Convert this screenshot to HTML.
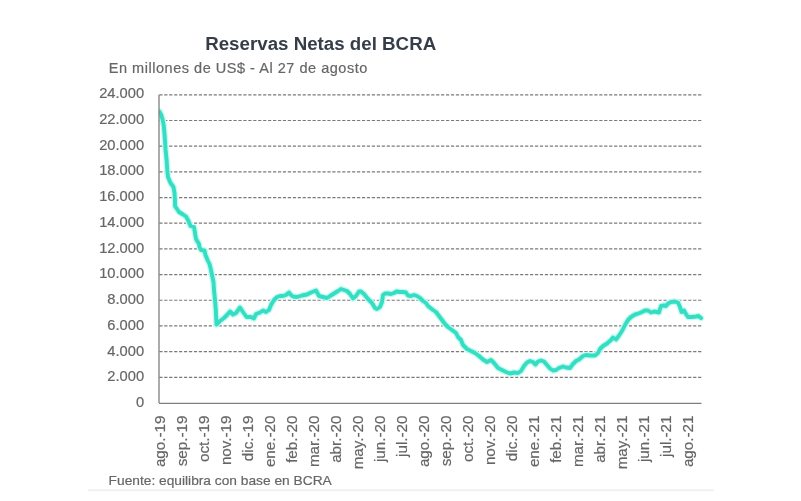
<!DOCTYPE html>
<html><head><meta charset="utf-8"><title>Reservas Netas del BCRA</title>
<style>
html,body{margin:0;padding:0;background:#fff;}
body{width:801px;height:501px;overflow:hidden;position:relative;}
svg{position:absolute;left:0;top:0;display:block;}
text{font-family:"Liberation Sans",Arial,sans-serif;}
.g{fill:#666;stroke:#666;stroke-width:0.2px;}
</style></head><body>
<svg width="801" height="501" viewBox="0 0 801 501">
<defs><filter id="soft" filterUnits="userSpaceOnUse" x="0" y="0" width="801" height="501"><feGaussianBlur stdDeviation="0.35"/></filter></defs>
<rect x="0" y="0" width="801" height="501" fill="#ffffff"/>
<g filter="url(#soft)">
<text x="205.2" y="49.7" font-size="18" font-weight="bold" fill="#363e4a" textLength="231" lengthAdjust="spacingAndGlyphs">Reservas Netas del BCRA</text>
<text x="108.8" y="72.8" font-size="14.5" class="g" textLength="258.5" lengthAdjust="spacing">En millones de US$ - Al 27 de agosto</text>
<line x1="159.31" y1="377.32" x2="701.5" y2="377.32" stroke="#7a7a7a" stroke-width="1.2" stroke-dasharray="3.2 1.743"/>
<line x1="159.31" y1="351.63" x2="701.5" y2="351.63" stroke="#7a7a7a" stroke-width="1.2" stroke-dasharray="3.2 1.743"/>
<line x1="159.31" y1="325.95" x2="701.5" y2="325.95" stroke="#7a7a7a" stroke-width="1.2" stroke-dasharray="3.2 1.743"/>
<line x1="159.31" y1="300.27" x2="701.5" y2="300.27" stroke="#7a7a7a" stroke-width="1.2" stroke-dasharray="3.2 1.743"/>
<line x1="159.31" y1="274.58" x2="701.5" y2="274.58" stroke="#7a7a7a" stroke-width="1.2" stroke-dasharray="3.2 1.743"/>
<line x1="159.31" y1="248.90" x2="701.5" y2="248.90" stroke="#7a7a7a" stroke-width="1.2" stroke-dasharray="3.2 1.743"/>
<line x1="159.31" y1="223.22" x2="701.5" y2="223.22" stroke="#7a7a7a" stroke-width="1.2" stroke-dasharray="3.2 1.743"/>
<line x1="159.31" y1="197.53" x2="701.5" y2="197.53" stroke="#7a7a7a" stroke-width="1.2" stroke-dasharray="3.2 1.743"/>
<line x1="159.31" y1="171.85" x2="701.5" y2="171.85" stroke="#7a7a7a" stroke-width="1.2" stroke-dasharray="3.2 1.743"/>
<line x1="159.31" y1="146.17" x2="701.5" y2="146.17" stroke="#7a7a7a" stroke-width="1.2" stroke-dasharray="3.2 1.743"/>
<line x1="159.31" y1="120.48" x2="701.5" y2="120.48" stroke="#7a7a7a" stroke-width="1.2" stroke-dasharray="3.2 1.743"/>
<line x1="159.31" y1="94.80" x2="701.5" y2="94.80" stroke="#7a7a7a" stroke-width="1.2" stroke-dasharray="3.2 1.743"/>
<text transform="translate(144.1,407.20) scale(1.05,1)" font-size="14" class="g" text-anchor="end">0</text>
<text transform="translate(144.1,381.45) scale(1.05,1)" font-size="14" class="g" text-anchor="end">2.000</text>
<text transform="translate(144.1,355.70) scale(1.05,1)" font-size="14" class="g" text-anchor="end">4.000</text>
<text transform="translate(144.1,329.95) scale(1.05,1)" font-size="14" class="g" text-anchor="end">6.000</text>
<text transform="translate(144.1,304.20) scale(1.05,1)" font-size="14" class="g" text-anchor="end">8.000</text>
<text transform="translate(144.1,278.45) scale(1.05,1)" font-size="14" class="g" text-anchor="end">10.000</text>
<text transform="translate(144.1,252.70) scale(1.05,1)" font-size="14" class="g" text-anchor="end">12.000</text>
<text transform="translate(144.1,226.95) scale(1.05,1)" font-size="14" class="g" text-anchor="end">14.000</text>
<text transform="translate(144.1,201.20) scale(1.05,1)" font-size="14" class="g" text-anchor="end">16.000</text>
<text transform="translate(144.1,175.45) scale(1.05,1)" font-size="14" class="g" text-anchor="end">18.000</text>
<text transform="translate(144.1,149.70) scale(1.05,1)" font-size="14" class="g" text-anchor="end">20.000</text>
<text transform="translate(144.1,123.95) scale(1.05,1)" font-size="14" class="g" text-anchor="end">22.000</text>
<text transform="translate(144.1,98.20) scale(1.05,1)" font-size="14" class="g" text-anchor="end">24.000</text>
<clipPath id="plot"><rect x="159" y="80" width="545" height="323"/></clipPath>
<g clip-path="url(#plot)"><polyline points="159.3,111.5 161.3,115 162.7,120 163.8,126 164.6,135 165.6,150 166.6,160 167.3,170 168,177 170.5,183 173.5,187 174.5,193 175,200 175,206 179,212 183,214.5 186,216.5 188.5,221 190.5,226 194,227 195,233 196,239 199,244 199.5,247 201,250 204.5,250.5 205.5,255 207.5,260 209.5,264 211,270 212,275 213.5,282 214,290 215,300 215.8,310 216.5,324.5 220,321 224,318 227,315 230,311.5 233,314.5 236,313 240,307.5 243,312 246.5,317 251,317 254,318.5 256,314 260,312.5 263,310.5 266,312 269,310 271,305 274,300 277,297 280,296 283,296 286,295 289,292.5 291,295 293,296.5 297,297 302,295.5 307,294.5 311,292.5 316,290.5 319,296 323,297 327,298 330,296 334,293.5 338,291 341,289 344,290 347,291 350,294 353,298.5 356,296 359,291.5 361,291.5 364,294 368,299 372,303 375,308 377,309 380,307 382,302 383,295 385,293.5 388,293.5 391,294 394,293 396.5,291.5 400,292 403,292 406,292.5 408,295.5 411,296 414,295 417,296 420,298 423,301 426,303 428,306 433,310 436,312 439,316 442,320 445,324 448,327 452,330 456,333 458,337 461,340 463,345 467,349 471,351 475,353 479,356 483,359.5 487,362 491,360 494,363 498,368 502,370 506,372 510,373.5 514,372.5 518,373 521,371 524,366 527,362.5 530,361 533,362 535.5,364.5 538,361.5 541,360.5 544,361.5 547,365 550,368.5 553,370.5 556,370 559,368 563,366.5 566,367.5 570,368 573,364 576,361 579,359.5 583,356 586,355 590,355.5 595,355.5 598,353 600,349 603,346 607,343.5 611,340 613,337.5 616,339.5 619,335.5 622,331 625,325 628,320 631,317 635,314.5 637,314 641,312.5 645,310.5 648,310.5 651,312.5 654,311.5 657,312 659,312.5 660,309 661,306 664,305.5 666,306 668,303.5 671,302 675,301.5 678,302.5 680,307 681.5,312 684,310.5 686,314 688,317 692,317 696,316.5 698.5,316 701,318" fill="none" stroke="#c4faf1" stroke-width="6.5" stroke-linejoin="round" stroke-linecap="round"/>
<polyline points="159.3,111.5 161.3,115 162.7,120 163.8,126 164.6,135 165.6,150 166.6,160 167.3,170 168,177 170.5,183 173.5,187 174.5,193 175,200 175,206 179,212 183,214.5 186,216.5 188.5,221 190.5,226 194,227 195,233 196,239 199,244 199.5,247 201,250 204.5,250.5 205.5,255 207.5,260 209.5,264 211,270 212,275 213.5,282 214,290 215,300 215.8,310 216.5,324.5 220,321 224,318 227,315 230,311.5 233,314.5 236,313 240,307.5 243,312 246.5,317 251,317 254,318.5 256,314 260,312.5 263,310.5 266,312 269,310 271,305 274,300 277,297 280,296 283,296 286,295 289,292.5 291,295 293,296.5 297,297 302,295.5 307,294.5 311,292.5 316,290.5 319,296 323,297 327,298 330,296 334,293.5 338,291 341,289 344,290 347,291 350,294 353,298.5 356,296 359,291.5 361,291.5 364,294 368,299 372,303 375,308 377,309 380,307 382,302 383,295 385,293.5 388,293.5 391,294 394,293 396.5,291.5 400,292 403,292 406,292.5 408,295.5 411,296 414,295 417,296 420,298 423,301 426,303 428,306 433,310 436,312 439,316 442,320 445,324 448,327 452,330 456,333 458,337 461,340 463,345 467,349 471,351 475,353 479,356 483,359.5 487,362 491,360 494,363 498,368 502,370 506,372 510,373.5 514,372.5 518,373 521,371 524,366 527,362.5 530,361 533,362 535.5,364.5 538,361.5 541,360.5 544,361.5 547,365 550,368.5 553,370.5 556,370 559,368 563,366.5 566,367.5 570,368 573,364 576,361 579,359.5 583,356 586,355 590,355.5 595,355.5 598,353 600,349 603,346 607,343.5 611,340 613,337.5 616,339.5 619,335.5 622,331 625,325 628,320 631,317 635,314.5 637,314 641,312.5 645,310.5 648,310.5 651,312.5 654,311.5 657,312 659,312.5 660,309 661,306 664,305.5 666,306 668,303.5 671,302 675,301.5 678,302.5 680,307 681.5,312 684,310.5 686,314 688,317 692,317 696,316.5 698.5,316 701,318" fill="none" stroke="#36ddc2" stroke-width="3.9" stroke-linejoin="round" stroke-linecap="round"/></g>
<line x1="159.0" y1="94.80" x2="159.0" y2="403.0" stroke="#7f7f7f" stroke-width="1.3"/>
<line x1="159.0" y1="403.0" x2="701.5" y2="403.0" stroke="#808080" stroke-width="1.3" transform="translate(0,0.4)"/>
<text transform="translate(165.40,415.6) rotate(-90) scale(1.085,1)" font-size="14" class="g" text-anchor="end">ago.-19</text>
<text transform="translate(187.37,415.6) rotate(-90) scale(1.085,1)" font-size="14" class="g" text-anchor="end">sep.-19</text>
<text transform="translate(209.34,415.6) rotate(-90) scale(1.085,1)" font-size="14" class="g" text-anchor="end">oct.-19</text>
<text transform="translate(231.31,415.6) rotate(-90) scale(1.085,1)" font-size="14" class="g" text-anchor="end">nov.-19</text>
<text transform="translate(253.28,415.6) rotate(-90) scale(1.085,1)" font-size="14" class="g" text-anchor="end">dic.-19</text>
<text transform="translate(275.25,415.6) rotate(-90) scale(1.085,1)" font-size="14" class="g" text-anchor="end">ene.-20</text>
<text transform="translate(297.22,415.6) rotate(-90) scale(1.085,1)" font-size="14" class="g" text-anchor="end">feb.-20</text>
<text transform="translate(319.20,415.6) rotate(-90) scale(1.085,1)" font-size="14" class="g" text-anchor="end">mar.-20</text>
<text transform="translate(341.17,415.6) rotate(-90) scale(1.085,1)" font-size="14" class="g" text-anchor="end">abr.-20</text>
<text transform="translate(363.14,415.6) rotate(-90) scale(1.085,1)" font-size="14" class="g" text-anchor="end">may.-20</text>
<text transform="translate(385.11,415.6) rotate(-90) scale(1.085,1)" font-size="14" class="g" text-anchor="end">jun.-20</text>
<text transform="translate(407.08,415.6) rotate(-90) scale(1.085,1)" font-size="14" class="g" text-anchor="end">jul.-20</text>
<text transform="translate(429.05,415.6) rotate(-90) scale(1.085,1)" font-size="14" class="g" text-anchor="end">ago.-20</text>
<text transform="translate(451.02,415.6) rotate(-90) scale(1.085,1)" font-size="14" class="g" text-anchor="end">sep.-20</text>
<text transform="translate(472.99,415.6) rotate(-90) scale(1.085,1)" font-size="14" class="g" text-anchor="end">oct.-20</text>
<text transform="translate(494.96,415.6) rotate(-90) scale(1.085,1)" font-size="14" class="g" text-anchor="end">nov.-20</text>
<text transform="translate(516.93,415.6) rotate(-90) scale(1.085,1)" font-size="14" class="g" text-anchor="end">dic.-20</text>
<text transform="translate(538.90,415.6) rotate(-90) scale(1.085,1)" font-size="14" class="g" text-anchor="end">ene.-21</text>
<text transform="translate(560.88,415.6) rotate(-90) scale(1.085,1)" font-size="14" class="g" text-anchor="end">feb.-21</text>
<text transform="translate(582.85,415.6) rotate(-90) scale(1.085,1)" font-size="14" class="g" text-anchor="end">mar.-21</text>
<text transform="translate(604.82,415.6) rotate(-90) scale(1.085,1)" font-size="14" class="g" text-anchor="end">abr.-21</text>
<text transform="translate(626.79,415.6) rotate(-90) scale(1.085,1)" font-size="14" class="g" text-anchor="end">may.-21</text>
<text transform="translate(648.76,415.6) rotate(-90) scale(1.085,1)" font-size="14" class="g" text-anchor="end">jun.-21</text>
<text transform="translate(670.73,415.6) rotate(-90) scale(1.085,1)" font-size="14" class="g" text-anchor="end">jul.-21</text>
<text transform="translate(692.70,415.6) rotate(-90) scale(1.085,1)" font-size="14" class="g" text-anchor="end">ago.-21</text>
<text x="108.6" y="485.2" font-size="13.5" class="g" textLength="223.2" lengthAdjust="spacingAndGlyphs">Fuente: equilibra con base en BCRA</text>
<line x1="88" y1="490.2" x2="714" y2="490.2" stroke="#f0f0f0" stroke-width="2"/>
</g>
</svg>
</body></html>
